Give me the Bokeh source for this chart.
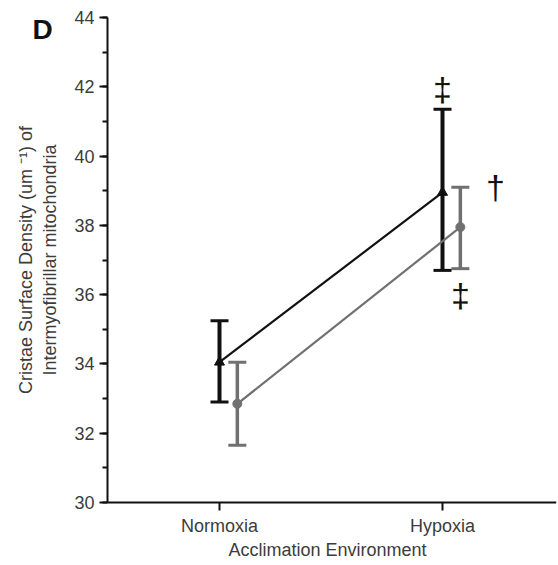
from bokeh.plotting import figure
from bokeh.models import (ColumnDataSource, Whisker, TeeHead, Range1d, FixedTicker,
                          SingleIntervalTicker, Label)
from bokeh.core.properties import value
from bokeh.embed import file_html
from bokeh.resources import INLINE

# ---- data ----
categories = ["Normoxia", "Hypoxia"]
black_mean = [34.05, 38.95]
black_upper = [35.25, 41.35]
black_lower = [32.9, 36.7]
grey_mean = [32.85, 37.95]
grey_upper = [34.05, 39.1]
grey_lower = [31.65, 36.75]
marks = ["‡", "†", "‡"]
mark_cat = [1, 1, 1]
mark_y = [41.95, 39.1, 36.0]
panel_letter = "D"
x_title = "Acclimation Environment"
y_title = "Cristae Surface Density (um \u207b\u00b9) of\nIntermyofibrillar mitochondria"

FONT = "Liberation Sans"
BLACK = "#111111"
GREY = "#707070"
TXT = "#3c3c3c"
OFFSET = 0.08
X_LO, X_HI = -0.502, 1.511   # visible axis extent (data units)
Y_LO, Y_HI = 30, 44

xs = list(range(len(categories)))
# The frame covers the whole canvas so that the panel letter and outer texts are not
# clipped; both axes are pinned (fixed_location) and bounded.
p = figure(width=558, height=565, output_backend="svg", toolbar_location=None,
           x_range=Range1d(-0.98206, 1.51121), y_range=Range1d(28.1815, 44.4907),
           min_border_left=0, min_border_right=2, min_border_top=0, min_border_bottom=0)
p.outline_line_color = None
p.grid.visible = False
p.background_fill_color = "white"
p.border_fill_color = "white"

bsrc = ColumnDataSource(dict(x=xs, m=black_mean, u=black_upper, l=black_lower))
gsrc = ColumnDataSource(dict(x=[v + OFFSET for v in xs], m=grey_mean, u=grey_upper, l=grey_lower))

p.line("x", "m", source=bsrc, line_color=BLACK, line_width=2.2)
p.line("x", "m", source=gsrc, line_color=GREY, line_width=2.2)

for src, col, lw in ((gsrc, GREY, 3.5), (bsrc, BLACK, 4)):
    w = Whisker(base="x", upper="u", lower="l", source=src, dimension="height",
                line_color=col, line_width=lw,
                upper_head=TeeHead(size=18, line_color=col, line_width=3),
                lower_head=TeeHead(size=18, line_color=col, line_width=3))
    p.add_layout(w)

p.scatter("x", "m", source=bsrc, marker="triangle", size=10, color=BLACK)
p.scatter("x", "m", source=gsrc, marker="circle", size=9, color=GREY)

msrc = ColumnDataSource(dict(x=[mark_cat[0], mark_cat[1] + 0.238, mark_cat[2] + OFFSET],
                             y=mark_y, t=marks))
p.text("x", "y", text="t", source=msrc, text_font=value(FONT), text_font_size="34px",
       text_color=BLACK, text_align="center", text_baseline="middle")

# axes
p.xaxis.ticker = FixedTicker(ticks=xs)
p.xaxis.major_label_overrides = {i: c for i, c in enumerate(categories)}
p.xaxis.minor_tick_line_color = None
p.xaxis.bounds = (X_LO, X_HI)
p.xaxis.fixed_location = Y_LO
p.yaxis.ticker = SingleIntervalTicker(interval=2, num_minor_ticks=2)
p.yaxis.axis_label = y_title
p.yaxis.bounds = (Y_LO, Y_HI)
p.yaxis.fixed_location = X_LO

for ax in (p.xaxis[0], p.yaxis[0]):
    ax.axis_line_width = 2
    ax.axis_line_color = BLACK
    ax.major_tick_line_width = 2
    ax.major_tick_line_color = BLACK
    ax.major_tick_out = 8
    ax.major_tick_in = 0
    ax.minor_tick_out = 5
    ax.minor_tick_in = 0
    ax.minor_tick_line_width = 2
    ax.minor_tick_line_color = BLACK
    ax.major_label_text_font = FONT
    ax.major_label_text_font_size = "18px"
    ax.major_label_text_color = TXT
    ax.axis_label_text_font = FONT
    ax.axis_label_text_font_size = "18px"
    ax.axis_label_text_font_style = "normal"
    ax.axis_label_text_color = TXT
    ax.major_label_standoff = 5

p.yaxis.axis_label_standoff = 11

# x-axis title centred under the bounded axis
p.add_layout(Label(x=(X_LO + X_HI) / 2 - 0.02, y=28.62, text=x_title, text_font=FONT,
                   text_font_size="18px", text_color=TXT,
                   text_align="center", text_baseline="middle"))

p.add_layout(Label(x=-0.8386, y=43.64, text=panel_letter, text_font=FONT,
                   text_font_size="28px", text_font_style="bold", text_color=BLACK,
                   text_align="left", text_baseline="middle"))

open("out.html", "w").write(file_html(p, INLINE))
